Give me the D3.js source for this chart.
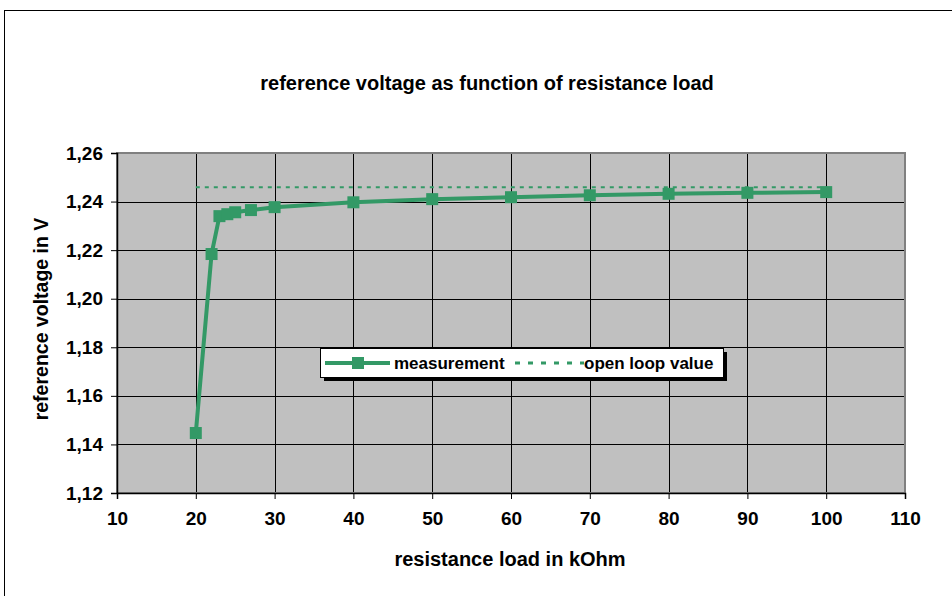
<!DOCTYPE html>
<html>
<head>
<meta charset="utf-8">
<script src="https://cdn.jsdelivr.net/npm/d3@7/dist/d3.min.js"></script>
<style>
  body { margin: 0; background: #fff; }
  text { font-family: "Liberation Sans", Arial, sans-serif; font-weight: bold; fill: #000; }
</style>
</head>
<body>
<svg width="952" height="596"></svg>
<script>
const loads = [20, 22, 23, 24, 25, 27, 30, 40, 50, 60, 70, 80, 90, 100];
const voltages = [1.1447, 1.2184, 1.2340, 1.2348, 1.2356, 1.2365, 1.2377, 1.2397, 1.2410, 1.2418, 1.2426, 1.2432, 1.2436, 1.2439];
const openLoopValue = 1.2459;
const openLoopRange = [20, 100];
const xTicks = [10, 20, 30, 40, 50, 60, 70, 80, 90, 100, 110];
const yTicks = [1.12, 1.14, 1.16, 1.18, 1.20, 1.22, 1.24, 1.26];

const green = '#339966';
const svg = d3.select('svg');

// outer chart border
svg.append('rect')
    .attr('x', 4.5).attr('y', 10.5)
    .attr('width', 960).attr('height', 600)
    .attr('fill', 'none').attr('stroke', '#000').attr('stroke-width', 1);

const plot = {left: 117, right: 905, top: 153, bottom: 493};

const x = d3.scaleLinear().domain([10, 110]).range([plot.left, plot.right]);
const y = d3.scaleLinear().domain([1.12, 1.26]).range([plot.bottom, plot.top]);

svg.append('rect')
    .attr('x', plot.left).attr('y', plot.top)
    .attr('width', plot.right - plot.left).attr('height', plot.bottom - plot.top)
    .attr('fill', '#c0c0c0');

// grid
const grid = svg.append('g');
grid.selectAll('line.h')
    .data(yTicks.slice(1, -1))
    .enter().append('line')
    .attr('x1', plot.left).attr('x2', plot.right)
    .attr('y1', d => Math.round(y(d)) + 0.5).attr('y2', d => Math.round(y(d)) + 0.5)
    .attr('stroke', '#000').attr('stroke-width', 1);
grid.selectAll('line.v')
    .data(xTicks.slice(1, -1))
    .enter().append('line')
    .attr('y1', plot.top).attr('y2', plot.bottom)
    .attr('x1', d => Math.round(x(d)) + 0.5).attr('x2', d => Math.round(x(d)) + 0.5)
    .attr('stroke', '#000').attr('stroke-width', 1);

// plot frame
svg.append('rect')
    .attr('x', plot.left).attr('y', plot.top)
    .attr('width', plot.right - plot.left).attr('height', plot.bottom - plot.top)
    .attr('fill', 'none').attr('stroke', '#808080').attr('stroke-width', 2);

// axes
const fmt = d => d3.format('.2f')(d).replace('.', ',');
const xAxis = svg.append('g')
    .attr('transform', `translate(0,${plot.bottom})`)
    .call(d3.axisBottom(x).tickValues(xTicks).tickSize(6).tickPadding(13));
const yAxis = svg.append('g')
    .attr('transform', `translate(${plot.left},0)`)
    .call(d3.axisLeft(y).tickValues(yTicks).tickFormat(fmt).tickSize(6).tickPadding(8));
[xAxis, yAxis].forEach(a => {
    a.select('.domain').attr('stroke', '#000').attr('stroke-width', 1.5);
    a.selectAll('.tick line').attr('stroke', '#000');
    a.selectAll('.tick text').style('font-size', '19px').style('font-family', '"Liberation Sans", Arial, sans-serif').style('font-weight', 'bold');
});

// open loop reference line
svg.append('line')
    .attr('x1', x(openLoopRange[0])).attr('x2', x(openLoopRange[1]))
    .attr('y1', y(openLoopValue)).attr('y2', y(openLoopValue))
    .attr('stroke', green).attr('stroke-width', 2).attr('stroke-dasharray', '4,5');

// measurement line
const line = d3.line().x((d, i) => x(loads[i])).y(d => y(d));
svg.append('path')
    .datum(voltages)
    .attr('d', line)
    .attr('fill', 'none').attr('stroke', green).attr('stroke-width', 4);

svg.append('g').selectAll('rect')
    .data(voltages)
    .enter().append('rect')
    .attr('x', (d, i) => x(loads[i]) - 6)
    .attr('y', d => y(d) - 6)
    .attr('width', 12).attr('height', 12)
    .attr('fill', green);

// titles
svg.append('text')
    .attr('x', 487).attr('y', 90)
    .attr('text-anchor', 'middle')
    .style('font-size', '20px')
    .text('reference voltage as function of resistance load');
svg.append('text')
    .attr('x', 510).attr('y', 566)
    .attr('text-anchor', 'middle')
    .style('font-size', '20px')
    .text('resistance load in kOhm');
svg.append('text')
    .attr('transform', `translate(48,319) rotate(-90)`)
    .attr('text-anchor', 'middle')
    .style('font-size', '19.5px')
    .text('reference voltage in V');

// legend
const lg = svg.append('g').attr('transform', 'translate(320,348)');
lg.append('rect').attr('x', 4).attr('y', 4).attr('width', 403).attr('height', 29).attr('fill', '#000');
lg.append('rect').attr('x', 0.5).attr('y', 0.5).attr('width', 403).attr('height', 29)
    .attr('fill', '#fff').attr('stroke', '#000').attr('stroke-width', 1);
lg.append('line').attr('x1', 5).attr('x2', 70).attr('y1', 15).attr('y2', 15)
    .attr('stroke', green).attr('stroke-width', 4);
lg.append('rect').attr('x', 32).attr('y', 9).attr('width', 12).attr('height', 12).attr('fill', green);
lg.append('text').attr('x', 74).attr('y', 21).style('font-size', '17px').text('measurement');
lg.append('line').attr('x1', 195).attr('x2', 264).attr('y1', 15).attr('y2', 15)
    .attr('stroke', green).attr('stroke-width', 3).attr('stroke-dasharray', '5,8');
lg.append('text').attr('x', 264).attr('y', 21).style('font-size', '17px').text('open loop value');
</script>
</body>
</html>
